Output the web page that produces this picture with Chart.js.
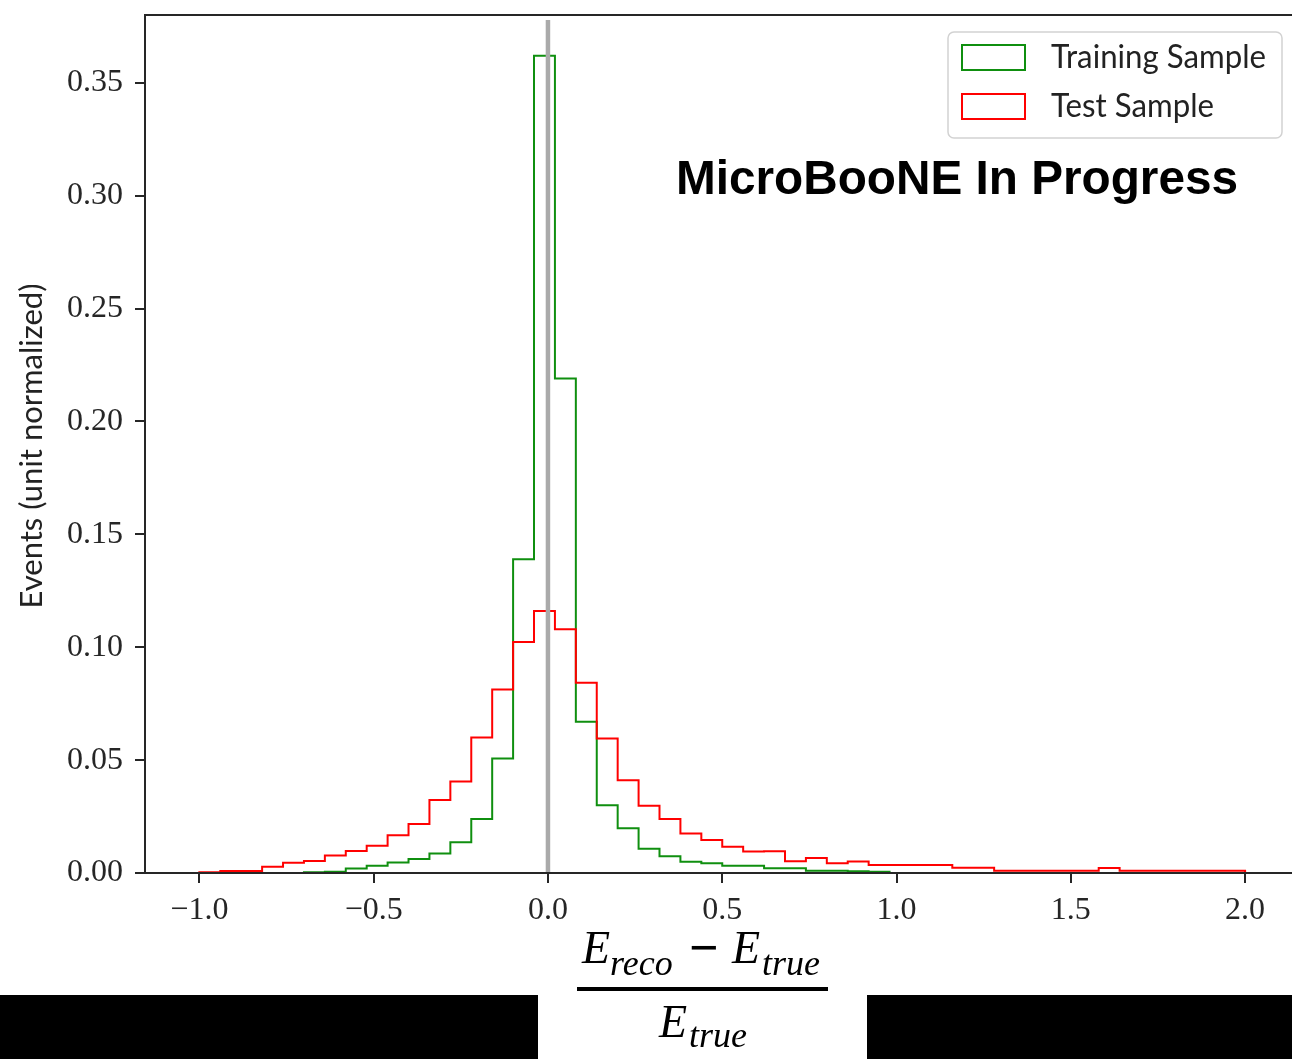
<!DOCTYPE html>
<html>
<head>
<meta charset="utf-8">
<script src="https://cdn.jsdelivr.net/npm/chart.js@4.4.1/dist/chart.umd.min.js"></script>
<style>
  html, body { margin: 0; padding: 0; background: #ffffff; overflow: hidden; }
  #wrap { width: 1292px; height: 1059px; overflow: hidden; position: relative; }
  canvas { display: block; }
</style>
</head>
<body>
<div id="wrap"><canvas id="c" width="1300" height="1059"></canvas></div>
<script>
// ---------------- DATA ----------------
const binEdges = [
  -1.00, -0.94, -0.88, -0.82, -0.76, -0.70, -0.64, -0.58, -0.52, -0.46,
  -0.40, -0.34, -0.28, -0.22, -0.16, -0.10, -0.04,  0.02,  0.08,  0.14,
   0.20,  0.26,  0.32,  0.38,  0.44,  0.50,  0.56,  0.62,  0.68,  0.74,
   0.80,  0.86,  0.92,  0.98,  1.04,  1.10,  1.16,  1.22,  1.28,  1.34,
   1.40,  1.46,  1.52,  1.58,  1.64,  1.70,  1.76,  1.82,  1.88,  1.94,
   2.00
];
const trainingValues = [
  0, 0, 0, 0, 0, 0.0003, 0.0006, 0.0020, 0.0032, 0.0046,
  0.0062, 0.0086, 0.0136, 0.0239, 0.0507, 0.1390, 0.3620, 0.2190, 0.0670, 0.0300,
  0.0198, 0.0107, 0.0074, 0.0050, 0.0043, 0.0032, 0.0032, 0.0021, 0.0021, 0.0010,
  0.0010, 0.0008, 0.0006, 0, 0, 0, 0, 0, 0, 0,
  0, 0, 0, 0, 0, 0, 0, 0, 0, 0
];
const testValues = [
  0.0003, 0.0009, 0.0009, 0.0028, 0.0045, 0.0053, 0.0078, 0.0097, 0.0121, 0.0167,
  0.0217, 0.0323, 0.0405, 0.0600, 0.0813, 0.1023, 0.1160, 0.1079, 0.0843, 0.0596,
  0.0411, 0.0298, 0.0239, 0.0175, 0.0146, 0.0116, 0.0095, 0.0096, 0.0052, 0.0066,
  0.0043, 0.0051, 0.0035, 0.0035, 0.0035, 0.0035, 0.0023, 0.0023, 0.0010, 0.0010,
  0.0010, 0.0010, 0.0010, 0.0022, 0.0010, 0.0010, 0.0010, 0.0010, 0.0010, 0.0010
];
const seriesLabels = ['Training Sample', 'Test Sample'];
const xTickValues = [-1.0, -0.5, 0.0, 0.5, 1.0, 1.5, 2.0];
const yTickValues = [0.00, 0.05, 0.10, 0.15, 0.20, 0.25, 0.30, 0.35];
const referenceX = [0.0];
const yAxisTitle = 'Events (unit normalized)';
const watermark = 'MicroBooNE In Progress';

// ---------------- STYLE ----------------
const GREEN = '#0f8f0f';
const RED = '#ff0000';
const AXIS = '#262626';
const TICKFONT = { family: "'Liberation Serif', 'DejaVu Serif', serif", size: 32 };

function stepPoints(values) {
  const n = values.length;
  const pts = [{ x: binEdges[0], y: 0 }];
  for (let i = 0; i < n; i++) pts.push({ x: binEdges[i], y: values[i] });
  pts.push({ x: binEdges[n], y: values[n - 1] });
  pts.push({ x: binEdges[n], y: 0 });
  return pts;
}

const decorPlugin = {
  id: 'decor',
  beforeDraw(chart) {
    const ctx = chart.ctx;
    ctx.save();
    ctx.fillStyle = '#ffffff';
    ctx.fillRect(0, 0, chart.width, chart.height);
    ctx.restore();
  },
  afterDatasetsDraw(chart) {
    const ctx = chart.ctx;
    const a = chart.chartArea;
    const xs = chart.scales.x;
    ctx.save();
    ctx.strokeStyle = '#aaaaaa';
    ctx.lineWidth = 4.5;
    referenceX.forEach(v => {
      const px = xs.getPixelForValue(v);
      ctx.beginPath();
      ctx.moveTo(px, a.top + 5);
      ctx.lineTo(px, a.bottom);
      ctx.stroke();
    });
    ctx.strokeStyle = AXIS;
    ctx.lineWidth = 2;
    ctx.strokeRect(a.left, a.top, a.right - a.left, a.bottom - a.top);
    ctx.restore();
  },
  afterDraw(chart) {
    const ctx = chart.ctx;
    ctx.save();
    // legend
    const lx = 948, ly = 32, lw = 334, lh = 106, r = 6;
    ctx.beginPath();
    ctx.moveTo(lx + r, ly);
    ctx.arcTo(lx + lw, ly, lx + lw, ly + lh, r);
    ctx.arcTo(lx + lw, ly + lh, lx, ly + lh, r);
    ctx.arcTo(lx, ly + lh, lx, ly, r);
    ctx.arcTo(lx, ly, lx + lw, ly, r);
    ctx.closePath();
    ctx.fillStyle = 'rgba(255,255,255,0.85)';
    ctx.fill();
    ctx.strokeStyle = '#d2d2d2';
    ctx.lineWidth = 1.5;
    ctx.stroke();
    const colors = [GREEN, RED];
    const rowsY = [45, 94];
    const baseY = [68, 117];
    const textW = [215, 163];
    ctx.font = "33px Lato, 'DejaVu Sans', sans-serif";
    ctx.textBaseline = 'alphabetic';
    ctx.textAlign = 'left';
    seriesLabels.forEach((lab, i) => {
      ctx.strokeStyle = colors[i];
      ctx.lineWidth = 2;
      ctx.strokeRect(962, rowsY[i], 63, 25);
      ctx.fillStyle = '#222222';
      ctx.fillText(lab, 1051, baseY[i], textW[i]);
    });
    // watermark
    ctx.font = "bold 48px 'Liberation Sans', Arial, sans-serif";
    ctx.fillStyle = '#000000';
    ctx.fillText(watermark, 676, 194, 562);
    // y axis title
    ctx.save();
    ctx.translate(42, 446);
    ctx.rotate(-Math.PI / 2);
    ctx.textAlign = 'center';
    ctx.font = "31px Lato, 'DejaVu Sans', sans-serif";
    ctx.fillStyle = '#222222';
    ctx.fillText(yAxisTitle, 0, 0, 328);
    ctx.restore();
    // black bars at bottom
    ctx.fillStyle = '#000000';
    ctx.fillRect(0, 995, 538, 64);
    ctx.fillRect(867, 995, 440, 64);
    // x axis title (fraction)
    ctx.fillStyle = '#000000';
    ctx.textAlign = 'left';
    const big = "italic 46px 'Liberation Serif', 'Times New Roman', serif";
    const sub = "italic 36px 'Liberation Serif', 'Times New Roman', serif";
    const minus = "bold 52px 'Liberation Serif', 'Times New Roman', serif";
    ctx.font = big; ctx.fillText('E', 582, 963);
    ctx.font = sub; ctx.fillText('reco', 610, 975);
    ctx.font = minus; ctx.fillText('\u2212', 689, 965);
    ctx.font = big; ctx.fillText('E', 732, 963);
    ctx.font = sub; ctx.fillText('true', 762, 975);
    ctx.fillRect(577, 987, 251, 4);
    ctx.font = big; ctx.fillText('E', 659, 1037);
    ctx.font = sub; ctx.fillText('true', 689, 1047);
    ctx.restore();
  }
};

new Chart(document.getElementById('c'), {
  type: 'line',
  data: {
    datasets: [
      { label: seriesLabels[0], data: stepPoints(trainingValues), borderColor: GREEN,
        borderWidth: 2, stepped: 'before', pointRadius: 0, fill: false, order: 1 },
      { label: seriesLabels[1], data: stepPoints(testValues), borderColor: RED,
        borderWidth: 2, stepped: 'before', pointRadius: 0, fill: false, order: 0 }
    ]
  },
  options: {
    responsive: false,
    animation: false,
    events: [],
    layout: { padding: { left: 0, top: 15, right: 2.6, bottom: 0 } },
    scales: {
      x: {
        type: 'linear', min: -1.156, max: 2.15,
        afterBuildTicks: s => { s.ticks = xTickValues.map(v => ({ value: v })); },
        afterFit: s => { s.height = 186; s.paddingLeft = 0; s.paddingRight = 0; },
        grid: { drawOnChartArea: false, drawTicks: true, tickLength: 10, color: AXIS, lineWidth: 2 },
        border: { display: false },
        ticks: {
          font: TICKFONT, color: AXIS, padding: 8, maxRotation: 0,
          callback: v => (v < 0 ? '\u2212' : '') + Math.abs(v).toFixed(1)
        }
      },
      y: {
        min: 0, max: 0.38,
        afterBuildTicks: s => { s.ticks = yTickValues.map(v => ({ value: v })); },
        afterFit: s => { s.width = 145; s.paddingTop = 0; s.paddingBottom = 0; },
        grid: { drawOnChartArea: false, drawTicks: true, tickLength: 10, color: AXIS, lineWidth: 2 },
        border: { display: false },
        ticks: { font: TICKFONT, color: AXIS, padding: 12, callback: v => v.toFixed(2) }
      }
    },
    plugins: { legend: { display: false }, tooltip: { enabled: false } }
  },
  plugins: [decorPlugin]
});
</script>
</body>
</html>
